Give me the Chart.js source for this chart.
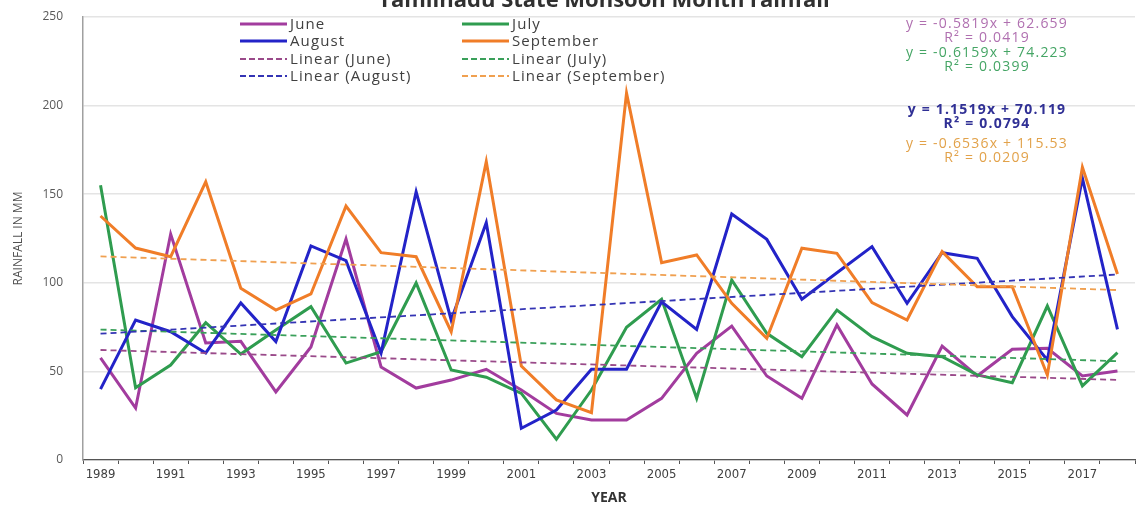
<!DOCTYPE html>
<html>
<head>
<meta charset="utf-8">
<script src="https://cdn.jsdelivr.net/npm/chart.js@4.4.1/dist/chart.umd.min.js"></script>
<style>
  html, body { margin: 0; padding: 0; background: #fff; }
  canvas { display: block; }
</style>
</head>
<body>
<canvas id="chart-rain" width="1137" height="506"></canvas>
<script>
// Monsoon month rainfall, 1989-2018
const years = ['1989','1990','1991','1992','1993','1994','1995','1996','1997','1998',
  '1999','2000','2001','2002','2003','2004','2005','2006','2007','2008',
  '2009','2010','2011','2012','2013','2014','2015','2016','2017','2018'];

const june = [57.6, 29.3, 127.5, 66, 67, 38.4, 63.8, 124.7, 52.5, 40.6,
  45.1, 51.2, 39.5, 26.3, 22.6, 22.6, 34.8, 60.2, 75.6, 47.4,
  34.8, 76.2, 42.9, 25.4, 64.3, 47.4, 62.5, 63, 47.4, 50.2];
const july = [155, 40.8, 53.6, 77.5, 59.8, 73.4, 86.5, 54.7, 61.1, 99.9,
  50.8, 46.7, 37.6, 11.7, 39.5, 74.9, 90.7, 34.8, 101.6, 71.5,
  58.3, 84.6, 69.6, 60.2, 58.3, 48, 43.6, 86.9, 41.8, 60.6];
const august = [40, 79, 72.4, 60.4, 88.6, 66.8, 120.8, 112.5, 60.4, 151.4,
  79, 133.9, 17.9, 28.2, 51.2, 51.2, 89.3, 73.7, 138.8, 124.5,
  90.7, 105.7, 120.4, 88.4, 117, 113.8, 80.9, 56.4, 159, 73.7];
const september = [137.7, 119.6, 114.7, 157, 96.9, 84.6, 93.7, 143.3, 117, 114.7,
  72.4, 168.4, 53, 33.9, 26.7, 207, 111.4, 115.7, 88.4, 68.7,
  119.5, 116.6, 88.8, 79, 117.6, 97.8, 97.8, 48, 165.2, 105];

// linear trend end values (first year, last year)
const trendStart = [62.08, 73.61, 71.27, 114.88];
const trendEnd = [45.20, 55.75, 104.68, 95.92];

const seriesNames = ['June', 'July', 'August', 'September'];
const seriesColors = ['#a23c9e', '#2f9c4f', '#2323c8', '#f07d28'];
const trendColors = ['#9a4a8a', '#3aa05a', '#3434b4', '#f0a050'];

const equations = [
  ['y = -0.5819x + 62.659', 'R² = 0.0419'],
  ['y = -0.6159x + 74.223', 'R² = 0.0399'],
  ['y = 1.1519x + 70.119', 'R² = 0.0794'],
  ['y = -0.6536x + 115.53', 'R² = 0.0209']
];
const equationColors = ['#b070b0', '#45a565', '#303095', '#e2a24a'];

const trendData = (i) => years.map((_, k) =>
  k === 0 ? trendStart[i] : (k === years.length - 1 ? trendEnd[i] : null));

const datasets = [june, july, august, september].map((d, i) => ({
  label: seriesNames[i],
  data: d,
  borderColor: seriesColors[i],
  backgroundColor: seriesColors[i],
  borderWidth: 3,
  pointRadius: 0,
  tension: 0,
  order: 8 - i
}));
seriesNames.forEach((n, i) => {
  datasets.push({
    label: 'Linear (' + n + ')',
    data: trendData(i),
    borderColor: trendColors[i],
    backgroundColor: trendColors[i],
    borderWidth: 1.8,
    borderDash: [6, 4],
    pointRadius: 0,
    spanGaps: true,
    order: 4 - i
  });
});

// Legend (2 columns) + trend equations + clipped title
const annotations = {
  id: 'annotations',
  afterDraw(chart) {
    const { ctx } = chart;
    ctx.save();

    // title, cut off at the top edge
    ctx.font = "bold 22px 'Open Sans', sans-serif";
    ctx.fillStyle = '#303030';
    ctx.textAlign = 'center';
    ctx.textBaseline = 'middle';
    ctx.fillText('Tamilnadu State Monsoon Month rainfall', 604, 1);

    // legend
    ctx.font = "15px 'Open Sans', sans-serif";
    ctx.letterSpacing = '1.1px';
    ctx.textAlign = 'left';
    const cols = [240, 462];
    const rows = [24, 41, 59, 76];
    chart.data.datasets.forEach((ds, i) => {
      const x = cols[i % 2];
      const y = rows[Math.floor(i / 2)];
      ctx.strokeStyle = ds.borderColor;
      ctx.lineWidth = ds.borderDash ? 2 : 3;
      ctx.setLineDash(ds.borderDash ? [6, 3] : []);
      ctx.beginPath();
      ctx.moveTo(x, y);
      ctx.lineTo(x + 47, y);
      ctx.stroke();
      ctx.setLineDash([]);
      ctx.fillStyle = '#404040';
      ctx.fillText(ds.label, x + 50, y + 1);
    });

    // trendline equations
    ctx.textAlign = 'center';
    ctx.letterSpacing = '1.2px';
    const eqY = [24, 53, 110, 144];
    equations.forEach((eq, i) => {
      ctx.fillStyle = equationColors[i];
      ctx.font = (i === 2 ? 'bold ' : '') + "14px 'Open Sans', sans-serif";
      ctx.fillText(eq[0], 987, eqY[i]);
      ctx.fillText(eq[1], 987, eqY[i] + 14.5);
    });
    ctx.restore();
  }
};

new Chart(document.getElementById('chart-rain').getContext('2d'), {
  type: 'line',
  data: { labels: years, datasets },
  options: {
    responsive: false,
    animation: false,
    layout: { padding: { top: 17, right: 2, left: 0, bottom: 0 } },
    plugins: {
      legend: { display: false },
      tooltip: { enabled: false }
    },
    scales: {
      x: {
        offset: true,
        grid: {
          offset: true,
          drawOnChartArea: false,
          tickLength: 4,
          tickColor: '#555'
        },
        border: { color: '#555', width: 1.3 },
        ticks: {
          autoSkip: false,
          maxRotation: 0,
          padding: 3,
          color: '#404040',
          font: { family: "'Liberation Sans Narrow', 'DejaVu Sans Condensed', sans-serif", size: 13 },
          callback: (v, i) => (i % 2 === 0 ? years[i] : '')
        },
        title: {
          display: true,
          text: 'YEAR',
          color: '#333',
          font: { family: "'Open Sans', sans-serif", size: 14, weight: 'bold' },
          padding: { top: 0, bottom: 0 }
        },
        afterFit: (scale) => { scale.height = 46; }
      },
      y: {
        min: 0,
        max: 250,
        ticks: {
          stepSize: 50,
          padding: 20,
          color: '#595959',
          font: { family: "'Open Sans', sans-serif", size: 12 }
        },
        grid: { color: '#e4e4e4', lineWidth: 1.5, drawTicks: false },
        border: { color: '#a0a0a0', width: 1.5 },
        title: {
          display: true,
          text: 'RAINFALL IN MM',
          color: '#505050',
          font: { family: "'Open Sans', sans-serif", size: 12 },
          padding: { top: 11, bottom: 0 }
        },
        afterFit: (scale) => {
          scale.width = 83;
          scale.paddingTop = 0;
          scale.paddingBottom = 0;
        }
      }
    }
  },
  plugins: [annotations]
});
</script>
</body>
</html>
